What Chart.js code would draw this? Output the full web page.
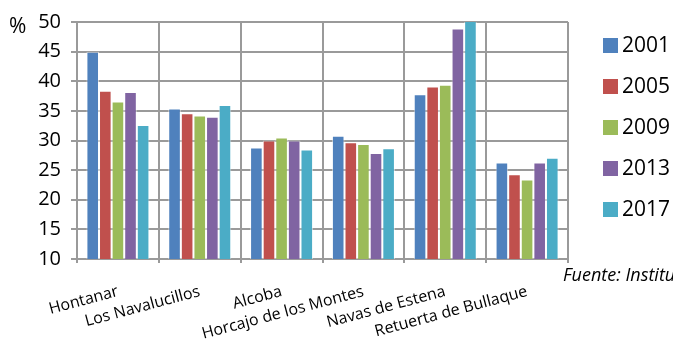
<!DOCTYPE html>
<html>
<head>
<meta charset="utf-8">
<script src="https://cdn.jsdelivr.net/npm/chart.js@4"></script>
<style>
  html, body { margin: 0; padding: 0; background: #fff; }
</style>
</head>
<body>
<canvas id="chart" width="673" height="340"></canvas>
<script>
// Categories (municipios) and series per year
const categories = ['Hontanar', 'Los Navalucillos', 'Alcoba', 'Horcajo de los Montes', 'Navas de Estena', 'Retuerta de Bullaque'];
const years = ['2001', '2005', '2009', '2013', '2017'];
const v2001 = [45.0, 35.4, 28.8, 30.8, 37.8, 26.3];
const v2005 = [38.4, 34.6, 30.0, 29.7, 39.1, 24.3];
const v2009 = [36.6, 34.2, 30.5, 29.4, 39.4, 23.4];
const v2013 = [38.2, 34.0, 30.0, 27.9, 48.9, 26.3];
const v2017 = [32.6, 36.0, 28.5, 28.7, 50.3, 27.1];
const yMin = 10, yMax = 50, yStep = 5;

const seriesValues = [v2001, v2005, v2009, v2013, v2017];
const colors = ['#4F81BD', '#C0504D', '#9BBB59', '#8064A2', '#4BACC6'];

const FONT = "'Open Sans', 'DejaVu Sans', sans-serif";

// Legend + extra texts drawn on top (legend at right, "%" and source note)
const extrasPlugin = {
    id: 'extras',
    afterDraw(chart) {
        const ctx = chart.ctx;
        ctx.save();
        // Legend
        ctx.font = `21px ${FONT}`;
        ctx.textBaseline = 'middle';
        ctx.textAlign = 'left';
        chart.data.datasets.forEach((ds, i) => {
            const cy = 45 + i * 41;
            ctx.fillStyle = ds.backgroundColor;
            ctx.fillRect(603, cy - 7, 15, 15);
            ctx.fillStyle = '#000';
            ctx.fillText(ds.label, 622, cy + 1);
        });
        // Unit
        ctx.font = `21px ${FONT}`;
        ctx.fillText('%', 9, 27);
        // Source
        ctx.font = `italic 18px ${FONT}`;
        ctx.fillText('Fuente: Instituto Nacional de Estadística', 563, 276);
        ctx.restore();
    }
};

const ctx = document.getElementById('chart').getContext('2d');
new Chart(ctx, {
    type: 'bar',
    data: {
        labels: categories,
        datasets: years.map((y, i) => ({
            label: y,
            data: seriesValues[i],
            backgroundColor: colors[i],
            borderColor: 'rgba(255,255,255,0.55)',
            borderWidth: 1,
            categoryPercentage: 0.77,
            barPercentage: 1.0
        }))
    },
    options: {
        responsive: false,
        animation: false,
        devicePixelRatio: 1,
        layout: { padding: { top: 20, right: 105, bottom: 0, left: 0 } },
        plugins: {
            legend: { display: false },
            tooltip: { enabled: false }
        },
        scales: {
            x: {
                grid: { color: '#9a9a9a', lineWidth: 2, offset: true, tickLength: 4 },
                border: { color: '#9a9a9a', width: 2 },
                ticks: {
                    color: '#000',
                    font: { family: FONT, size: 16 },
                    minRotation: 15,
                    maxRotation: 15,
                    padding: 19,
                    autoSkip: false
                },
                afterFit(scale) { scale.height = 81; }
            },
            y: {
                min: yMin,
                max: yMax,
                grid: { color: '#9a9a9a', lineWidth: 2, tickLength: 6 },
                border: { color: '#9a9a9a', width: 2 },
                ticks: {
                    stepSize: yStep,
                    color: '#000',
                    font: { family: FONT, size: 20 },
                    padding: 10
                },
                afterFit(scale) { scale.width = 77; }
            }
        }
    },
    plugins: [extrasPlugin]
});
</script>
</body>
</html>
